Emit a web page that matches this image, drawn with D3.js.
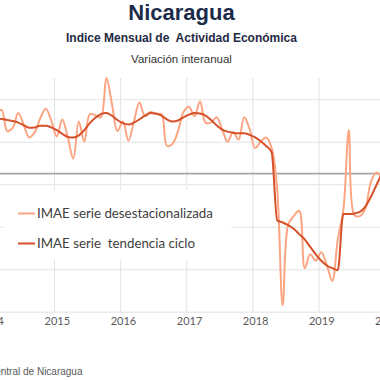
<!DOCTYPE html>
<html>
<head>
<meta charset="utf-8">
<script src="https://cdn.jsdelivr.net/npm/d3@7"></script>
<style>
  body { margin: 0; background: #fff; }
  svg { display: block; }
  .grid line { stroke: #e3e3e3; stroke-width: 1; }
  .grid path { display: none; }
  .years path, .years line { display: none; }
</style>
</head>
<body>
<div id="chart"></div>
<script>
// monthly data, Jan 2014 .. Dec 2019 (variación interanual, %)
var startYear = 2014;
var years = ["2014", "2015", "2016", "2017", "2018", "2019", "2020"];

var desest = [
  4.8, 5.6, 6.0, 4.0, 4.3, 5.7, 4.6, 3.4, 3.9, 5.2, 6.1, 5.0,
  3.5, 5.1, 3.4, 1.4, 4.9, 3.0, 5.6, 5.5, 5.3, 9.0, 6.6, 4.0,
  4.9, 3.1, 4.9, 6.7, 5.4, 5.8, 5.6, 5.6, 2.6, 2.8, 4.0, 5.8,
  6.3, 5.4, 6.8, 4.8, 4.8, 5.3, 4.2, 3.0, 3.9, 3.2, 5.3, 4.2,
  2.4, 3.0, 3.4, 2.4, -1.5, -12.4, -4.8, -4.0, -3.5, -8.9, -7.6, -8.2,
  -7.4, -8.6, -10.1, -6.2, -3.5, 4.1, -3.9, -4.0, -3.3, -0.8, 0.1, -0.4
];

var tendencia = [
  5.2, 5.2, 5.15, 5.05, 4.95, 4.8, 4.55, 4.32, 4.35, 4.5, 4.5, 4.35,
  4.1, 3.75, 3.45, 3.4, 3.6, 4.1, 4.75, 5.25, 5.6, 5.7, 5.45, 5.05,
  4.75, 4.62, 4.8, 5.1, 5.45, 5.7, 5.65, 5.45, 5.1, 4.9, 5.0, 5.3,
  5.55, 5.7, 5.65, 5.45, 5.05, 4.55, 4.15, 3.95, 3.85, 3.8, 3.8, 3.65,
  3.4, 3.05, 2.6, 2.0, -4.4, -4.6, -4.85, -5.2, -5.7, -6.2, -6.9, -7.6,
  -8.2, -8.65, -8.9, -9.1, -3.8, -3.8, -3.75, -3.6, -3.1, -2.2, -1.1, 0.0
];

var gridValues = [-13, -9, -5, -1, 3, 7];
var seriesNames = ["IMAE serie desestacionalizada", "IMAE serie  tendencia ciclo"];
var colors = ["#fba582", "#d5512a"];

var width = 380, height = 380;
var plotTop = 78, plotBottom = 311.7;

var svg = d3.select("#chart")
    .append("svg")
    .attr("width", width)
    .attr("height", height);

// x in months since Jan 2014 (the plot area runs past both edges of the picture)
var x = d3.scaleLinear()
    .domain([0, 60])
    .range([-12.1, 318.5]);

var y = d3.scaleLinear()
    .domain([-13, 9])
    .range([plotBottom, plotTop]);

// titles
svg.append("text")
    .attr("x", 181.5).attr("y", 20)
    .attr("text-anchor", "middle")
    .style("font-family", "Liberation Sans, Arial, sans-serif")
    .style("font-weight", "bold")
    .style("font-size", "22px")
    .style("fill", "#1c2b4a")
    .text("Nicaragua");

svg.append("text")
    .attr("x", 181.5).attr("y", 41.5)
    .attr("text-anchor", "middle")
    .attr("xml:space", "preserve")
    .style("white-space", "pre")
    .style("font-family", "Liberation Sans, Arial, sans-serif")
    .style("font-weight", "bold")
    .style("font-size", "12px")
    .style("fill", "#1f2a44")
    .text("Indice Mensual de  Actividad Económica");

svg.append("text")
    .attr("x", 181.5).attr("y", 62.5)
    .attr("text-anchor", "middle")
    .style("font-family", "Liberation Sans, Arial, sans-serif")
    .style("font-size", "11.5px")
    .style("fill", "#333")
    .text("Variación interanual");

// horizontal gridlines
svg.append("g")
    .attr("class", "grid")
    .attr("transform", "translate(-10,0)")
    .call(d3.axisRight(y)
        .tickValues(gridValues)
        .tickSize(width + 20)
        .tickFormat(""));

// vertical gridlines, one per January
svg.append("g")
    .attr("class", "grid")
    .attr("transform", "translate(0," + plotBottom + ")")
    .call(d3.axisBottom(x)
        .tickValues(d3.range(0, 84, 12))
        .tickSize(-(plotBottom - plotTop))
        .tickFormat(""));

// zero line
svg.append("line")
    .attr("x1", 0).attr("x2", width)
    .attr("y1", y(0)).attr("y2", y(0))
    .style("stroke", "#a6a6a6")
    .style("stroke-width", 1.6);

// year labels, centred on the January slot
svg.append("g")
    .attr("class", "years")
    .attr("transform", "translate(0," + plotBottom + ")")
    .call(d3.axisBottom(x)
        .tickValues(years.map(function (d, i) { return i * 12 + 0.5; }))
        .tickSize(0)
        .tickPadding(6)
        .tickFormat(function (d, i) { return years[i]; }))
    .selectAll("text")
    .style("font-family", "Lato, sans-serif")
    .style("font-size", "11px")
    .style("fill", "#595959");

// series
var line = d3.line()
    .x(function (d, i) { return x(i + 0.5); })
    .y(function (d) { return y(d); });

svg.append("path")
    .datum(desest)
    .attr("fill", "none")
    .attr("stroke", colors[0])
    .attr("stroke-width", 2)
    .attr("d", line.curve(d3.curveCatmullRom));

svg.append("path")
    .datum(tendencia)
    .attr("fill", "none")
    .attr("stroke", colors[1])
    .attr("stroke-width", 2)
    .attr("d", line.curve(d3.curveMonotoneX));

// legend
var legend = svg.append("g");
legend.append("rect")
    .attr("x", 4).attr("y", 190)
    .attr("width", 227).attr("height", 70)
    .style("fill", "#fff");

seriesNames.forEach(function (name, i) {
    var ly = 213.5 + i * 30;
    legend.append("line")
        .attr("x1", 18).attr("x2", 35)
        .attr("y1", ly).attr("y2", ly)
        .style("stroke", colors[i])
        .style("stroke-width", 2);
    legend.append("text")
        .attr("x", 37).attr("y", ly + 4.6)
        .attr("xml:space", "preserve")
        .style("white-space", "pre")
        .style("font-family", "Lato, sans-serif")
        .style("font-size", "13.3px")
        .style("fill", "#404040")
        .text(name);
});

// source, partly outside the picture
svg.append("text")
    .attr("x", 82.5).attr("y", 375)
    .attr("text-anchor", "end")
    .style("font-family", "Liberation Sans, Arial, sans-serif")
    .style("font-size", "10px")
    .style("fill", "#595959")
    .text("Fuente: Banco Central de Nicaragua");
</script>
</body>
</html>
